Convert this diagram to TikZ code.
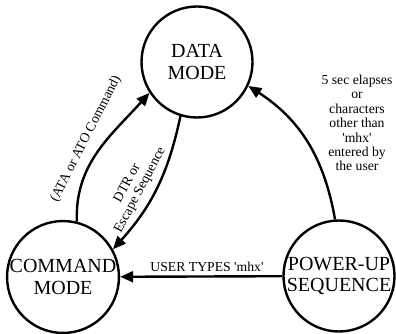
\documentclass[tikz,border=0pt]{standalone}
\usepackage{fontspec}
\setmainfont{Liberation Serif}
\usetikzlibrary{arrows.meta}
\begin{document}
\begin{tikzpicture}[x=1pt,y=1pt,
  state/.style={circle,draw,line width=2.4pt,minimum size=111pt,inner sep=0pt,align=center,
    font=\fontsize{20}{21.5}\selectfont},
  lbl/.style={font=\fontsize{13.7}{14.4}\selectfont,align=center,inner sep=0pt},
  conn/.style={line width=2.4pt,-{Triangle[length=13pt,width=11pt]}}]
\useasboundingbox (0,0) rectangle (396,334);
\node[state] (data) at (197,272) {DATA\\MODE};
\node[state] (cmd) at (63,57) {COMMAND\\MODE};
\node[state] (pwr) at (339,58) {POWER-UP\\SEQUENCE};
\draw[conn] (cmd.76) to[out=92,in=228,looseness=1.0] (data.213);
\draw[conn] (data.253) to[out=258,in=48,looseness=1.0] (cmd.29);
\draw[conn] (pwr.94) to[out=100,in=327,looseness=1.0] (data.335);
\draw[conn] (pwr) -- (cmd);
\node[lbl,rotate=63] (l1) at (86,195) {(ATA or ATO Command)};
\node[lbl,rotate=62] (l2) at (134,147) {DTR or\\Escape Sequence};
\node[lbl] (l3) at (357,211) {5 sec elapses\\or\\characters\\other than\\\textquotesingle mhx\textquotesingle\\entered by\\the user};
\node[lbl] (l4) at (207,67) {USER TYPES \textquotesingle mhx\textquotesingle};
\end{tikzpicture}
\end{document}
